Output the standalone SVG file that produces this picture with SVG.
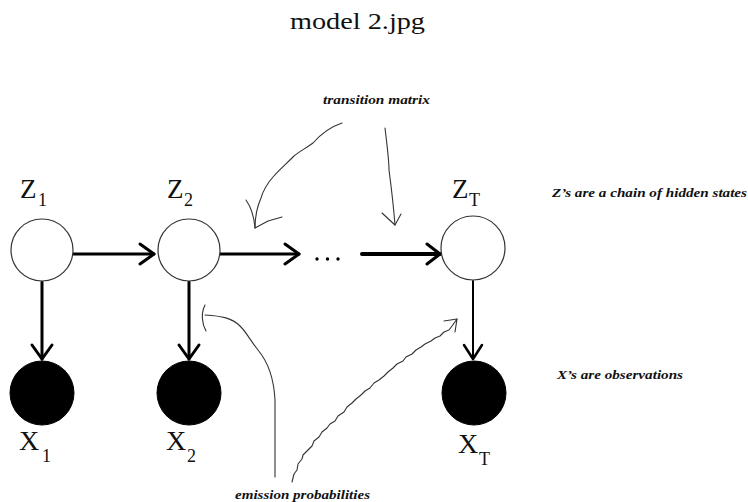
<svg xmlns="http://www.w3.org/2000/svg" width="748" height="502" viewBox="0 0 748 502">
<style>
text{font-family:'Liberation Serif','Times New Roman',Times,serif;fill:#111}
.title{font-size:24px}
.lbl{font-size:27px}
.lx{font-size:28px}
.sub{font-size:18px}
.note{font-style:italic;font-weight:bold;font-size:12px}
.hid{fill:#fff;stroke:#333;stroke-width:1.2}
.obs{fill:#000;stroke:#000;stroke-width:1}
.edge{fill:none;stroke:#000;stroke-width:3;stroke-linecap:round;stroke-linejoin:round}
.hand{fill:none;stroke:#333;stroke-width:1.1;stroke-linecap:round;stroke-linejoin:round}
</style>
<rect width="748" height="502" fill="#fff"/>
<text class="title" x="290" y="29" textLength="135" lengthAdjust="spacingAndGlyphs">model 2.jpg</text>

<g id="connectors">
  <line class="edge" x1="73" y1="254" x2="154" y2="254"/>
  <polyline class="edge" points="140,244 154,254 140,264"/>
  <line class="edge" x1="220" y1="254" x2="299" y2="254"/>
  <polyline class="edge" points="285,244 299,254 285,264"/>
  <line class="edge" x1="362" y1="254" x2="440" y2="254" style="stroke-width:4"/>
  <polyline class="edge" points="427,244 440,254 427,264"/>
  <line class="edge" x1="42" y1="282" x2="42" y2="359"/>
  <polyline class="edge" points="32,345 42,359 52,345"/>
  <line class="edge" x1="189" y1="282" x2="189" y2="359"/>
  <polyline class="edge" points="179,345 189,359 199,345"/>
  <line class="edge" x1="473" y1="281" x2="473" y2="359" style="stroke-width:2"/>
  <polyline class="edge" points="464,345 473,359 482,345" style="stroke-width:2.5"/>
</g>

<g id="dots" fill="#000">
  <circle cx="317" cy="259" r="1.7"/>
  <circle cx="327.5" cy="259" r="1.7"/>
  <circle cx="338" cy="259" r="1.7"/>
</g>

<g id="Z1"><circle class="hid" cx="42" cy="250" r="31"/><text class="lbl" x="20" y="198">Z</text><text class="sub" x="38" y="206">1</text></g>
<g id="Z2"><circle class="hid" cx="189" cy="250" r="31"/><text class="lbl" x="167" y="198">Z</text><text class="sub" x="184" y="206">2</text></g>
<g id="ZT"><circle class="hid" cx="473" cy="248" r="32"/><text class="lbl" x="452" y="198">Z</text><text class="sub" x="469" y="206">T</text></g>
<g id="X1"><circle class="obs" cx="42" cy="393" r="32"/><text class="lx" x="19" y="450">X</text><text class="sub" x="42" y="462">1</text></g>
<g id="X2"><circle class="obs" cx="189" cy="393" r="32"/><text class="lx" x="166" y="450">X</text><text class="sub" x="187" y="462">2</text></g>
<g id="XT"><circle class="obs" cx="474" cy="393" r="32"/><text class="lx" x="458" y="453">X</text><text class="sub" x="479" y="465">T</text></g>

<g id="annotations">
  <text class="note" x="323" y="104" textLength="107" lengthAdjust="spacingAndGlyphs">transition matrix</text>
  <path class="hand" d="M342,123 C330,127 320,135 313,143 C305,149 298,152 293,157 C285,165 279,170 273,177 C266,185 263,191 261,198 C257,207 255,217 255,228"/>
  <path class="hand" d="M246,200 C251,207 254,216 255,228 L268,221 L282,217"/>
  <path class="hand" d="M385,128 C387,145 389,160 389,170 C391,185 393,200 395,225"/>
  <path class="hand" d="M382,213 L395,225 L401,214"/>

  <text class="note" x="235" y="499" textLength="135" lengthAdjust="spacingAndGlyphs">emission probabilities</text>
  <path class="hand" d="M275,477 L275,400 C274,380 268,362 258,350 C250,340 247,333 240,326 C232,318 222,316 205,315"/>
  <path class="hand" d="M205,305 C202,311 202,318 203,322 C203,326 205,328 206,331"/>
  <polyline class="hand" points="292,482 294,474 297,470 298,464 302,459 303,455 308,450 312,446 314,441 319,437 322,432 327,428 330,424 335,421 338,416 344,412 347,407 352,403 356,399 361,395 365,391 370,388 374,383 379,380 384,376 388,372 393,368 397,364 403,361 406,357 412,354 416,350 421,347 425,344 431,341 435,338 440,336 444,332 449,330 452,326 457,319 455,332"/>
  <path class="hand" d="M444,321 L457,319"/>

  <text class="note" x="552" y="197" textLength="195" lengthAdjust="spacingAndGlyphs">Z’s are a chain of hidden states</text>
  <text class="note" x="557" y="379" textLength="126" lengthAdjust="spacingAndGlyphs">X’s are observations</text>
</g>
</svg>
